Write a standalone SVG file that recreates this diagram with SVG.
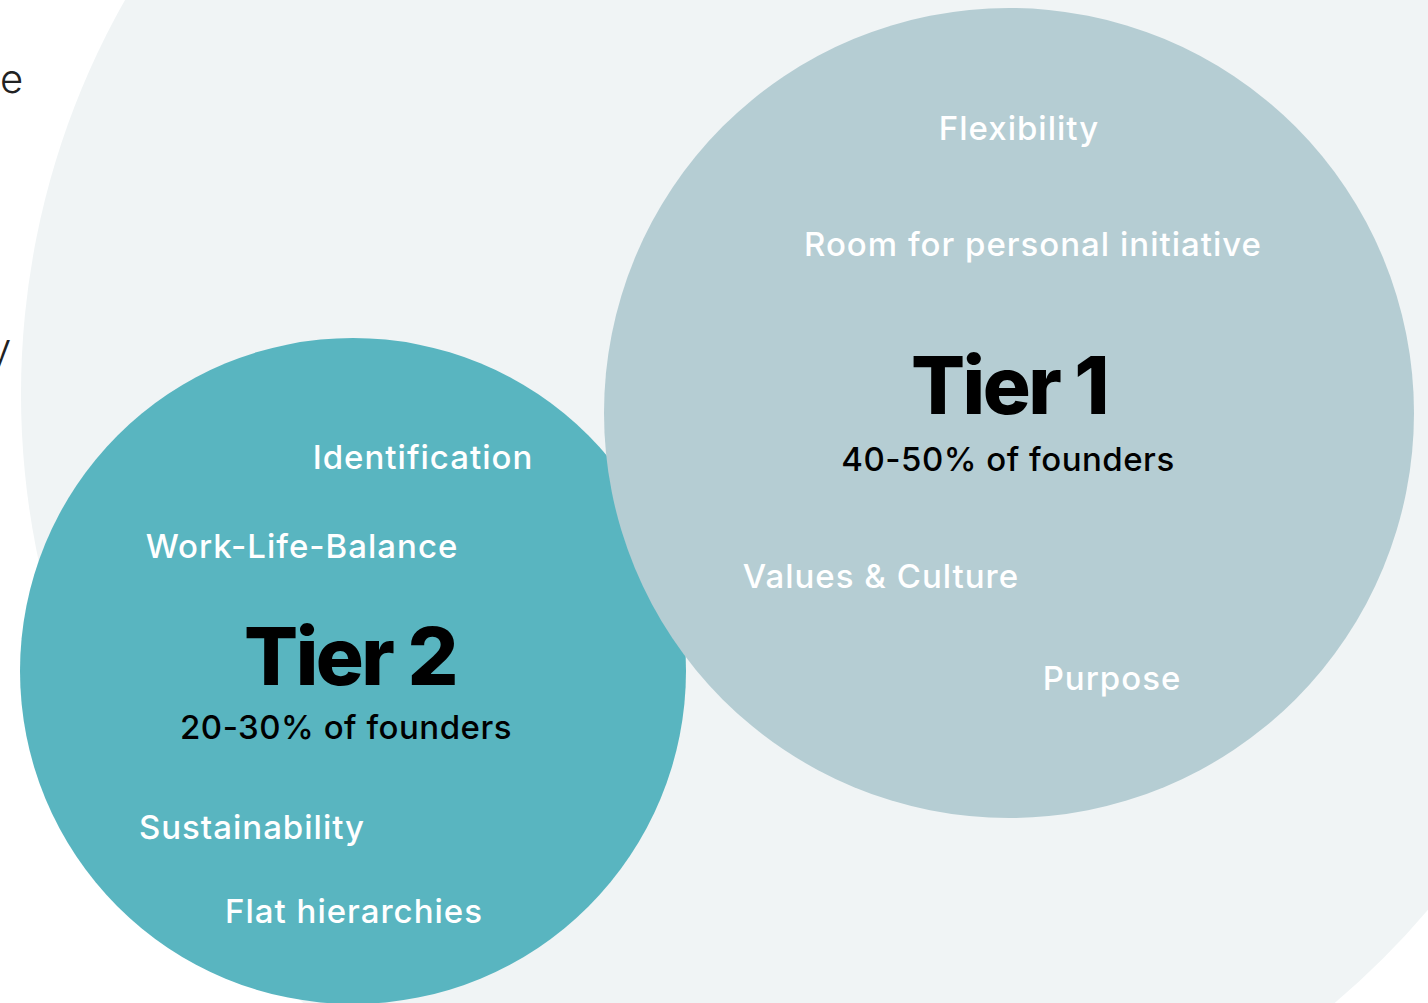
<svg xmlns="http://www.w3.org/2000/svg" width="1428" height="1003" viewBox="0 0 1428 1003">
<style>
.lbl{font-family:Inter,"Noto Sans","Liberation Sans",sans-serif;font-size:33px;font-weight:500;fill:#ffffff;text-anchor:middle;letter-spacing:1px}
.tier{font-family:Inter,"Noto Sans","Liberation Sans",sans-serif;font-size:80px;font-weight:800;fill:#000000;text-anchor:middle;letter-spacing:-2.5px}
.sub{font-family:Inter,"Noto Sans","Liberation Sans",sans-serif;font-size:33px;font-weight:500;fill:#000000;text-anchor:middle;letter-spacing:0.5px}
.frag{font-family:Inter,"Noto Sans","Liberation Sans",sans-serif;font-size:40px;font-weight:300;fill:#222222}
</style>
<rect width="1428" height="1003" fill="#ffffff"/>
<g id="background">
<circle cx="819" cy="394" r="798" fill="#f0f4f5"/>
</g>
<text class="frag" x="0" y="93">e</text>
<text class="frag" x="-11" y="362">y</text>
<g id="tier2">
<circle cx="353" cy="671" r="333" fill="#59b5c0"/>
</g>
<g id="tier1">
<circle cx="1009" cy="413" r="405" fill="#b5cdd3"/>
<text class="lbl" x="1019" y="140">Flexibility</text>
<text class="lbl" x="1033" y="256">Room for personal initiative</text>
<text class="tier" x="1009" y="414">Tier 1</text>
<text class="sub" x="1008" y="471">40-50% of founders</text>
<text class="lbl" x="881" y="588">Values &amp; Culture</text>
<text class="lbl" x="1112" y="690">Purpose</text>
</g>
<g id="tier2-labels">
<text class="lbl" x="423" y="469">Identification</text>
<text class="lbl" x="302" y="558">Work-Life-Balance</text>
<text class="tier" x="350" y="685">Tier 2</text>
<text class="sub" x="346" y="739">20-30% of founders</text>
<text class="lbl" x="252" y="839">Sustainability</text>
<text class="lbl" x="354" y="923">Flat hierarchies</text>
</g>
<g id="connectors"/>
</svg>
